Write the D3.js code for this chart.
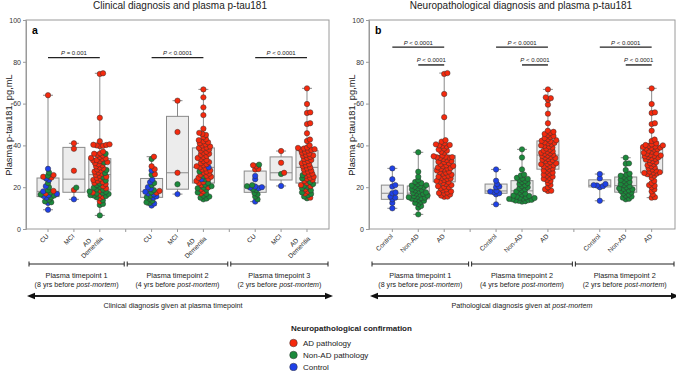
<!DOCTYPE html>
<html>
<head>
<meta charset="utf-8">
<script src="https://cdn.jsdelivr.net/npm/d3@7"></script>
<style>
  body { margin: 0; background: #fff; }
  svg { font-family: "Liberation Sans", Arial, sans-serif; }
</style>
</head>
<body>
<svg id="fig" width="676" height="371"></svg>
<script>
// ---- data (pg/mL) ----
const yTicks = [0, 20, 40, 60, 80, 100];
const clinLabels = ['CU', 'MCI', 'AD Dementia'];
const pathLabels = ['Control', 'Non-AD', 'AD'];
const tpNames = ['Plasma timepoint 1', 'Plasma timepoint 2', 'Plasma timepoint 2'];
const tpNamesA = ['Plasma timepoint 1', 'Plasma timepoint 2', 'Plasma timepoint 3'];
const tpYears = ['8', '4', '2'];
const pClin = ['P = 0.001', 'P < 0.0001', 'P < 0.0001'];

// panel a: clinical groups, split by pathology colour
const tp1CU = {
  ad: [64, 25.8, 25, 24.6, 18.2, 17],
  non: [27, 25.5, 22, 20, 18.5, 17.5, 16.5, 16, 15.2, 14, 13.2, 12.8],
  ctl: [28.8, 24.2, 23.5, 20.5, 18, 16.8, 16.2, 15.8, 15, 12.5, 9.2]
};
const tp1MCI = { ad: [41, 38.4, 27.9, 18.7], non: [19.8], ctl: [14.2] };
const tp1AD = {
  ad: [74.5, 74.2, 53.2, 42, 40.5, 40.3, 40.2, 40, 39.8, 39.6, 33.8, 37, 32.8, 36.2, 36, 35.5, 35.2,
       34.5, 34, 33.5, 33, 32.5, 32, 31.5, 31, 30.5, 30, 29.5, 29, 28.5, 28, 27.5, 27, 26.5, 26, 25.5,
       25, 24.5, 24, 23.5, 23, 22.5, 22, 21.5, 20.5, 19.5, 18.5, 17.5, 16.5, 15.5, 14.8, 13.2],
  non: [36, 31.8, 28.2, 26.8, 24.8, 23.2, 21.8, 21, 20.2, 19.8, 19, 18.8, 18, 17.8, 17.2, 17, 16.8,
        16.2, 16, 15.8, 15.2, 13.8, 12, 11.5, 6.5],
  ctl: []
};
const tp2CU = {
  ad: [34.6, 30, 28.6, 26.2, 18.2, 17.4],
  non: [33.5, 25.9, 22, 21, 18.6, 17.6, 16, 15.2, 14.5, 13.5, 12.8, 12.5],
  ctl: [28, 23.6, 22.4, 20, 19.2, 17.8, 17, 16.6, 15.6, 15, 12.2, 11.2]
};
const tp2MCI = { ad: [61.4, 46.4, 26.9], non: [21.4], ctl: [16.7] };
const tp2AD = {
  ad: [66.8, 63, 58.2, 54.5, 48, 46, 45.5, 45, 44, 43, 42.5, 42, 41.5, 41, 40.5, 40, 39.5, 39, 38.8,
       38.5, 38, 37.5, 37, 36.5, 36, 35.5, 35, 34.5, 34, 33.5, 33, 32.5, 32, 31.5, 31, 30.5, 30, 29.5,
       29, 28.5, 28, 27.5, 27, 26.5, 26, 25.5, 25, 24.5, 24, 23, 22.5, 22, 21, 20, 19, 18, 17],
  non: [27.5, 25.2, 23.8, 22, 21.2, 20.5, 19.8, 19.5, 18.8, 17.5, 16.8, 16, 15.5, 15, 14.6, 14.2],
  ctl: [29.5, 23.8]
};
const tp3CU = {
  ad: [30.5, 30, 28.7, 28.5],
  non: [30.8, 21, 20.5, 19, 18.6, 17.2, 16.6, 15.5, 14.2],
  ctl: [25.4, 23.8, 20.3, 20, 19.8, 19.5, 13.1]
};
const tp3MCI = { ad: [37.3, 31.7, 26.9], non: [26.3], ctl: [20.6] };
const tp3AD = {
  ad: [67.3, 59.8, 55.8, 55.5, 50.6, 50.2, 45.8, 42.8, 42.1, 40, 39, 38.8, 38.5, 38.2, 38, 37.8, 37.5,
       37, 36.5, 36, 35.5, 35.2, 35, 34.5, 34, 33.5, 33, 32.5, 32, 31.5, 31, 30.5, 30, 29.5, 29, 28.5,
       28, 27.5, 27, 26.5, 26, 25.5, 25, 24.5, 24, 23.5, 23, 22, 21, 20.5, 19, 18, 17, 15],
  non: [25.8, 24.2, 22.5, 21.5, 20.8, 20.2, 19.5, 18.5, 17.5, 16.8, 16.2, 15.5, 14.7],
  ctl: []
};

// panel b: pathology groups
const ctl1 = [29, 23.8, 21, 20.3, 17.5, 17.1, 15.5, 15, 14.2, 12.5, 9.9];
const non1 = [36.7, 27.4, 25, 23.4, 22.5, 22, 21.5, 21, 20.8, 20.5, 20.2, 20, 19.5, 19, 18.8, 18.5, 18,
              17.5, 17.3, 17, 16.8, 16.5, 16, 15.8, 15.5, 15.2, 15, 14.8, 14.5, 14.2, 14, 13.5, 13,
              12.5, 12, 11, 10.2, 7];
const ad1 = [74.6, 74.2, 64.6, 53.5, 42.5, 41.8, 41, 40.5, 40.2, 40, 39.8, 39.5, 38.5, 38, 37.5, 37,
             36.5, 35.2, 34.8, 34.6, 34.4, 34.2, 34.3, 34, 33.5, 33, 32.5, 32.2, 32, 31.5, 31, 30.5,
             30.2, 30, 29.5, 29.2, 29, 28.8, 28.5, 28, 27.5, 27.2, 27, 26.5, 26, 25.5, 25.2, 25, 24.5,
             24.2, 24, 23.5, 23, 22.8, 22.5, 22, 21.5, 21, 20.5, 20.2, 20, 19.5, 19, 18.5, 18, 17.5,
             17.2, 17, 16.5, 16, 15.5, 15.4];
const ctl2 = [28.5, 23.1, 21.5, 20.3, 20, 18.2, 17.9, 17.6, 17.1, 16.6, 11.8];
const non2 = [38.1, 34.2, 28.5, 26, 25.6, 24.5, 24.2, 24, 23.5, 23, 22.5, 22, 21.5, 21, 20.5, 20, 19.5,
              19, 18.5, 18, 17.5, 17, 16.5, 16, 15.8, 15.5, 15.2, 15, 14.8, 14.6, 14.4, 14.2, 14, 13.8,
              13.6, 13.5, 13.3, 13.1];
const ad2 = [66.8, 63, 62.6, 61.8, 59.5, 55.2, 50.6, 47, 46.5, 46, 45.5, 45, 44.5, 44, 43.5, 43, 42.5,
             42.2, 42, 41.5, 41.2, 41, 40.5, 40, 39.8, 39.5, 39, 38.5, 38, 37.5, 37.2, 37, 36.5, 36.2,
             36, 35.5, 35.2, 35, 34.5, 34.2, 34, 33.5, 33.2, 33, 32.5, 32, 31.5, 31.2, 31, 30.5, 30.2,
             30, 29.5, 29, 28.5, 28, 27.5, 27, 26.5, 26, 25.5, 25, 24.5, 24, 23.5, 23, 22, 21, 20, 19,
             18.3, 18.2];
const ctl3 = [26.3, 24.2, 21.5, 21, 20.8, 20.5, 20, 13.5];
const non3 = [34.1, 31.4, 31.2, 28.2, 26.5, 26, 25.5, 25, 24.5, 24, 23.5, 23, 22.5, 22, 21.5, 21, 20.5,
              20, 19.5, 19.2, 19, 18.5, 18.2, 18, 17.5, 17, 16.5, 16, 15.5, 15, 14.5, 14.2];
const ad3 = [67.3, 59.8, 55.8, 55.5, 50.6, 50.2, 47, 42.8, 42.1, 41, 40.5, 40.2, 40, 39.8, 39.5, 39.2,
             39, 38.8, 38.5, 38.2, 38, 37.5, 37, 36.5, 36.2, 36, 35.5, 35.2, 35, 34.8, 34.5, 34.2, 34,
             33.5, 33.2, 33, 32.5, 32, 31.5, 31, 30.5, 30, 29.5, 29, 28.5, 28, 27.5, 27.2, 27, 26.8,
             26.5, 26.2, 26, 25.5, 24.5, 23, 22, 21, 20.7, 20, 18.9, 18, 16.5, 15.2, 15];

const colours = { ad: '#f5290d', non: '#1b8a3b', ctl: '#1f41e8' };
const legendItems = [['ad', 'AD pathology'], ['non', 'Non-AD pathology'], ['ctl', 'Control']];

// ---- helpers ----
const svg = d3.select('#fig');
const yScale = d3.scaleLinear().domain([0, 100]).range([229, 20]);
const r = 2.7;

// GraphPad style quartiles: position (n+1)p
function q6(s, p) {
  const h = (s.length + 1) * p, lo = Math.floor(h);
  if (lo < 1) return s[0];
  if (lo >= s.length) return s[s.length - 1];
  return s[lo - 1] + (h - lo) * (s[lo] - s[lo - 1]);
}

function swarm(pts, d) {
  const placed = [];
  pts.slice().sort((a, b) => a.v - b.v).forEach(p => {
    p.y = yScale(p.v);
    const cands = [0];
    placed.forEach(q => {
      const dy = Math.abs(p.y - q.y);
      if (dy < d) {
        const dx = Math.sqrt(d * d - dy * dy);
        cands.push(q.dx + dx, q.dx - dx);
      }
    });
    cands.sort((a, b) => Math.abs(a) - Math.abs(b));
    p.dx = cands.find(c => placed.every(q => (c - q.dx) ** 2 + (p.y - q.y) ** 2 >= d * d - 0.01));
    placed.push(p);
  });
  return placed;
}

function toPts(g) {
  return ['ad', 'non', 'ctl'].flatMap(k => (g[k] || []).map(v => ({ v, c: k })));
}

function drawPanel(o) {
  const x = d3.scalePoint().domain(d3.range(11)).range([o.x0, o.x1]).padding(o.pad);
  const g = svg.append('g');

  // frame
  g.append('rect').attr('x', o.x0).attr('y', 20).attr('width', o.x1 - o.x0).attr('height', 209)
    .attr('fill', 'none').attr('stroke', '#9a9a9a').attr('stroke-width', 1);

  // y axis
  const ya = g.append('g').attr('transform', `translate(${o.x0},0)`)
    .call(d3.axisLeft(yScale).tickValues(yTicks).tickSize(3).tickPadding(2));
  ya.select('.domain').attr('stroke', '#9a9a9a');
  ya.selectAll('line').attr('stroke', '#9a9a9a');
  ya.selectAll('text').attr('font-size', 7).attr('fill', '#333');
  ya.attr('font-family', null);

  // x ticks at every slot
  g.selectAll('.xt').data(d3.range(11)).join('line')
    .attr('x1', i => x(i)).attr('x2', i => x(i)).attr('y1', 229).attr('y2', 232)
    .attr('stroke', '#9a9a9a');

  // category labels
  o.groups.forEach(grp => {
    const lab = g.append('g').attr('transform', `translate(${x(grp.idx)},230) rotate(-45)`);
    const lines = grp.label === 'AD Dementia' ? ['AD', 'Dementia'] : [grp.label];
    const t = lab.append('text').attr('font-size', 6.5).attr('fill', '#222');
    lines.forEach((l, k) => t.append('tspan').text(l).attr('y', 5.5 - (lines.length - 1) * 3.5 + k * 7));
    const spans = t.selectAll('tspan').nodes();
    const w = d3.max(spans, n => n.getComputedTextLength());
    spans.forEach(n => {
      d3.select(n).attr('text-anchor', 'middle').attr('x', -4 - w / 2);
    });
  });

  // boxes
  o.groups.forEach(grp => {
    const vals = grp.pts.map(p => p.v).sort(d3.ascending);
    const q1 = q6(vals, 0.25), med = q6(vals, 0.5), q3 = q6(vals, 0.75);
    const cx = x(grp.idx), bw = 22;
    const stroke = '#8a8a8a';
    g.append('line').attr('x1', cx).attr('x2', cx).attr('y1', yScale(vals[0])).attr('y2', yScale(vals[vals.length - 1]))
      .attr('stroke', stroke).attr('stroke-width', 1);
    [vals[0], vals[vals.length - 1]].forEach(v => {
      g.append('line').attr('x1', cx - 5).attr('x2', cx + 5).attr('y1', yScale(v)).attr('y2', yScale(v))
        .attr('stroke', stroke).attr('stroke-width', 1);
    });
    g.append('rect').attr('x', cx - bw / 2).attr('y', yScale(q3)).attr('width', bw)
      .attr('height', yScale(q1) - yScale(q3)).attr('fill', '#ececec').attr('stroke', stroke).attr('stroke-width', 1);
    g.append('line').attr('x1', cx - bw / 2).attr('x2', cx + bw / 2).attr('y1', yScale(med)).attr('y2', yScale(med))
      .attr('stroke', stroke).attr('stroke-width', 1);
  });

  // dots
  o.groups.forEach(grp => {
    const cx = x(grp.idx);
    g.append('g').selectAll('circle').data(swarm(grp.pts, 3.3)).join('circle')
      .attr('cx', p => cx + p.dx).attr('cy', p => p.y).attr('r', r)
      .attr('fill', p => colours[p.c]).attr('stroke', '#333').attr('stroke-width', 0.5);
  });

  // significance bars
  o.sig.forEach(s => {
    const yy = yScale(s.at);
    g.append('line').attr('x1', x(s.from)).attr('x2', x(s.to)).attr('y1', yy).attr('y2', yy)
      .attr('stroke', '#222').attr('stroke-width', 1.4);
    const t = g.append('text').attr('x', (x(s.from) + x(s.to)) / 2).attr('y', yy - 2.6)
      .attr('text-anchor', 'middle').attr('font-size', 6).attr('fill', '#222');
    t.append('tspan').attr('font-style', 'italic').text('P');
    t.append('tspan').text(s.text.slice(1));
  });

  // panel letter + titles
  g.append('text').attr('x', o.x0 + 6).attr('y', 34).attr('font-size', 10.5).attr('font-weight', 'bold').text(o.letter);
  g.append('text').attr('x', o.titleX).attr('y', 9).attr('text-anchor', 'middle').attr('font-size', 10)
    .attr('fill', '#222').text(o.title);
  g.append('text').attr('transform', `translate(${o.x0 - 14},125) rotate(-90)`).attr('text-anchor', 'middle')
    .attr('font-size', 9.3).attr('fill', '#222').text('Plasma p-tau181, pg,mL');

  // timepoint brackets
  const seps = [x(3), x(7)];
  const segs = [[o.x0 + 3, seps[0] - 1.5], [seps[0] + 1.5, seps[1] - 1.5], [seps[1] + 1.5, o.x1 - 1]];
  segs.forEach((sg, k) => {
    g.append('line').attr('x1', sg[0]).attr('x2', sg[1]).attr('y1', 264).attr('y2', 264).attr('stroke', '#222').attr('stroke-width', 1);
    sg.forEach(xx => g.append('line').attr('x1', xx).attr('x2', xx).attr('y1', 261.5).attr('y2', 266.5)
      .attr('stroke', '#222').attr('stroke-width', 1));
    const mid = (sg[0] + sg[1]) / 2;
    g.append('text').attr('x', mid).attr('y', 277.5).attr('text-anchor', 'middle').attr('font-size', 7.3)
      .attr('fill', '#222').text(o.tps[k]);
    const t = g.append('text').attr('x', mid).attr('y', 287).attr('text-anchor', 'middle').attr('font-size', 7.1).attr('fill', '#222');
    t.append('tspan').text(`(${tpYears[k]} yrs before `);
    t.append('tspan').attr('font-style', 'italic').text('post-mortem');
    t.append('tspan').text(')');
  });

  // double arrow
  const ay = 296, a0 = o.x0 + 1, a1 = o.x1 + 4;
  g.append('line').attr('x1', a0 + 6).attr('x2', a1 - 6).attr('y1', ay).attr('y2', ay).attr('stroke', '#222').attr('stroke-width', 1.8);
  g.append('path').attr('d', `M${a0},${ay}L${a0 + 8},${ay - 3.2}L${a0 + 8},${ay + 3.2}Z`).attr('fill', '#111');
  g.append('path').attr('d', `M${a1},${ay}L${a1 - 8},${ay - 3.2}L${a1 - 8},${ay + 3.2}Z`).attr('fill', '#111');
  const at = g.append('text').attr('x', o.arrowX).attr('y', 307.5).attr('text-anchor', 'middle')
    .attr('font-size', 7.2).attr('fill', '#222');
  o.arrowText.forEach(([s, it]) => at.append('tspan').attr('font-style', it ? 'italic' : null).text(s));
}

// ---- build groups ----
const clinGroups = [tp1CU, tp1MCI, tp1AD, tp2CU, tp2MCI, tp2AD, tp3CU, tp3MCI, tp3AD];
const pathGroups = [[ctl1, non1, ad1], [ctl2, non2, ad2], [ctl3, non3, ad3]];

drawPanel({
  x0: 26, x1: 329, pad: 0.85, letter: 'a', title: 'Clinical diagnosis and plasma p-tau181', titleX: 180,
  groups: clinGroups.map((gr, i) => ({
    idx: Math.floor(i / 3) * 4 + (i % 3), label: clinLabels[i % 3], pts: toPts(gr)
  })),
  sig: [0, 1, 2].map(k => ({ from: k * 4, to: k * 4 + 2, at: 82, text: pClin[k] })),
  tps: tpNamesA, arrowX: 173,
  arrowText: [['Clinical diagnosis given at plasma timepoint', false]]
});

drawPanel({
  x0: 369, x1: 675, pad: 0.9, letter: 'b', title: 'Neuropathological diagnosis and plasma p-tau181', titleX: 521,
  groups: pathGroups.flatMap((tp, k) => tp.map((vals, j) => ({
    idx: k * 4 + j, label: pathLabels[j], pts: vals.map(v => ({ v, c: ['ctl', 'non', 'ad'][j] }))
  }))),
  sig: [0, 1, 2].flatMap(k => [
    { from: k * 4, to: k * 4 + 2, at: 87, text: 'P < 0.0001' },
    { from: k * 4 + 1, to: k * 4 + 2, at: 78.5, text: 'P < 0.0001' }
  ]),
  tps: tpNames, arrowX: 522,
  arrowText: [['Pathological diagnosis given at ', false], ['post-mortem', true]]
});

// legend
const lg = svg.append('g').attr('transform', 'translate(291,0)');
lg.append('text').attr('x', 0).attr('y', 330.5).attr('font-size', 8).attr('font-weight', 'bold')
  .attr('fill', '#222').text('Neuropathological confirmation');
legendItems.forEach(([k, name], i) => {
  lg.append('circle').attr('cx', 2.5).attr('cy', 343 + i * 12).attr('r', 3.8)
    .attr('fill', colours[k]).attr('stroke', '#333').attr('stroke-width', 0.5);
  lg.append('text').attr('x', 12).attr('y', 346 + i * 12).attr('font-size', 8).attr('fill', '#222').text(name);
});
</script>
</body>
</html>
